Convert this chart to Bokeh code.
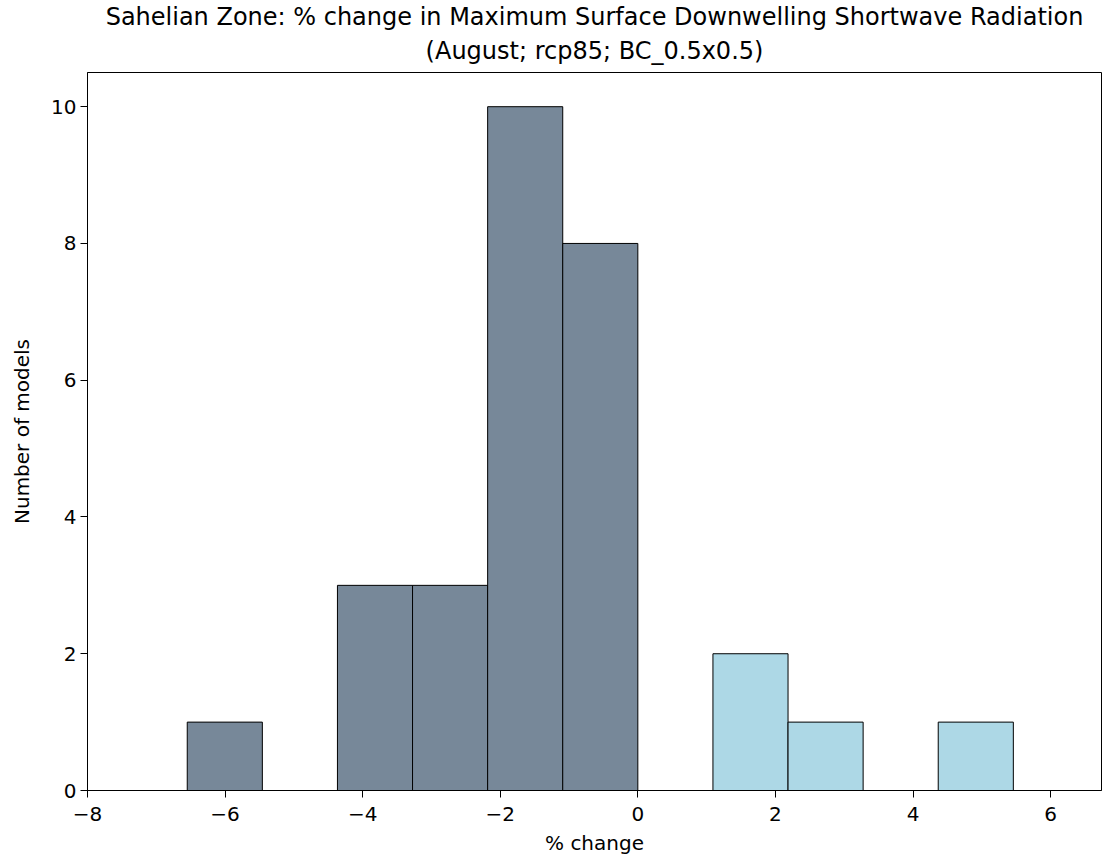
from bokeh.plotting import figure
from bokeh.models import Range1d, FixedTicker, ColumnDataSource, Title
from bokeh.embed import file_html
from bokeh.resources import INLINE

# Histogram data
bin_lo = -6.55
bin_hi = 6.55
n_bins = 12
counts = [1, 0, 3, 3, 10, 8, 0, 2, 1, 0, 1, 0]
neg_color = "#778899"
pos_color = "#ADD8E6"
title_lines = ["Sahelian Zone: % change in Maximum Surface Downwelling Shortwave Radiation",
               "(August; rcp85; BC_0.5x0.5)"]
x_ticks = [-8, -6, -4, -2, 0, 2, 4, 6]
y_ticks = [0, 2, 4, 6, 8, 10]

width = (bin_hi - bin_lo) / n_bins
lefts = [bin_lo + i * width for i in range(n_bins)]
rights = [l + width for l in lefts]
colors = [neg_color if (l + r) / 2 < 0 else pos_color for l, r in zip(lefts, rights)]

src = ColumnDataSource(dict(left=lefts, right=rights, top=counts, bottom=[0] * n_bins, color=colors))

p = figure(width=1102, height=857, output_backend="svg", toolbar_location=None, title=None,
           x_range=Range1d(-8, 6.74), y_range=Range1d(0, 10.5),
           min_border_left=87, min_border_right=1, min_border_bottom=65, min_border_top=0)

p.quad(left="left", right="right", top="top", bottom="bottom", source=src,
       fill_color="color", line_color="black", line_width=1)

for txt, off, va in ((title_lines[1], 12, "top"), (title_lines[0], 0, "bottom")):
    t = Title(text=txt, align="center", vertical_align=va, text_font="DejaVu Sans",
              text_font_size="24px", text_font_style="normal", text_color="black",
              standoff=off, offset=0)
    p.add_layout(t, "above")

p.xgrid.visible = False
p.ygrid.visible = False
p.outline_line_color = "black"
p.outline_line_width = 1
p.outline_line_alpha = 1

p.xaxis.ticker = FixedTicker(ticks=x_ticks)
p.yaxis.ticker = FixedTicker(ticks=y_ticks)
p.xaxis.axis_label = "% change"
p.yaxis.axis_label = "Number of models"
for ax in (p.xaxis, p.yaxis):
    ax.axis_label_text_font = "DejaVu Sans"
    ax.axis_label_text_font_size = "20px"
    ax.axis_label_text_font_style = "normal"
    ax.axis_label_text_color = "black"
    ax.major_label_text_font = "DejaVu Sans"
    ax.major_label_text_font_size = "20px"
    ax.major_label_text_color = "black"
    ax.minor_tick_line_color = None
    ax.major_tick_in = 0
    ax.major_tick_out = 7
    ax.major_tick_line_color = "black"
    ax.axis_line_color = "black"
    ax.major_label_standoff = 4
p.xaxis.major_label_standoff = 9
p.xaxis.axis_label_standoff = 7
p.yaxis.axis_label_standoff = 14
p.background_fill_color = "white"
p.border_fill_color = "white"

open("out.html", "w").write(file_html(p, INLINE))
